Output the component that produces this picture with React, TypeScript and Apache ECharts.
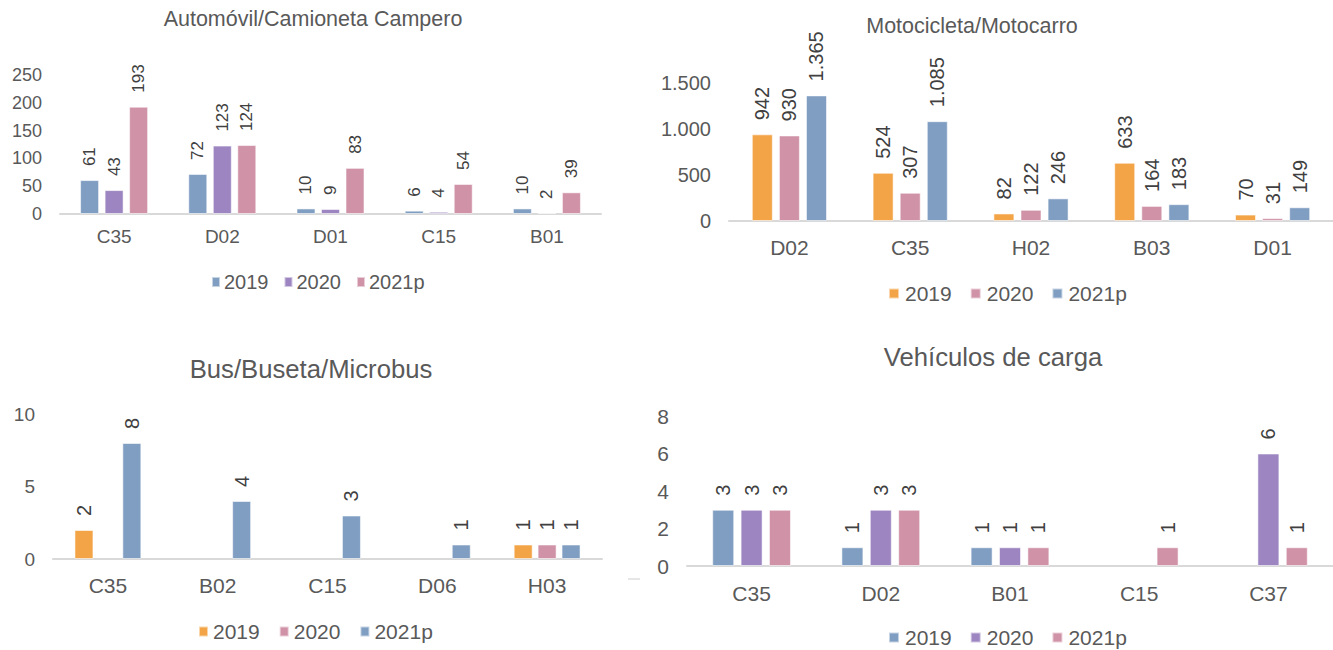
import React, { useEffect, useRef } from "react";
import * as echarts from "echarts";

// ---------- DATA ----------
const autoCategories = ["C35", "D02", "D01", "C15", "B01"];
const auto2019 = [61, 72, 10, 6, 10];
const auto2020 = [43, 123, 9, 4, 2];
const auto2021p = [193, 124, 83, 54, 39];

const motoCategories = ["D02", "C35", "H02", "B03", "D01"];
const moto2019 = [942, 524, 82, 633, 70];
const moto2020 = [930, 307, 122, 164, 31];
const moto2021p = [1365, 1085, 246, 183, 149];

const busCategories = ["C35", "B02", "C15", "D06", "H03"];
const bus2019 = [2, null, null, null, 1];
const bus2020 = [null, null, null, null, 1];
const bus2021p = [8, 4, 3, 1, 1];

const cargaCategories = ["C35", "D02", "B01", "C15", "C37"];
const carga2019 = [3, 1, 1, null, null];
const carga2020 = [3, 3, 1, null, 6];
const carga2021p = [3, 3, 1, 1, 1];

const seriesNames = ["2019", "2020", "2021p"];
const titles = [
  "Automóvil/Camioneta Campero",
  "Motocicleta/Motocarro",
  "Bus/Buseta/Microbus",
  "Vehículos de carga",
];

// ---------- STYLE ----------
const FONT = "'Liberation Sans', Arial, Helvetica, sans-serif";
const BLUE = "#809EC2";
const PURPLE = "#9C85C0";
const PINK = "#D092A7";
const ORANGE = "#F3A447";
const AXIS_TEXT = "#595959";
const VALUE_TEXT = "#404040";

const thousands = (v: number) =>
  String(v).replace(/\B(?=(\d{3})+(?!\d))/g, ".");

const panels = [
  {
    cats: autoCategories,
    data: [auto2019, auto2020, auto2021p],
    colors: [BLUE, PURPLE, PINK],
    grid: { left: 60, top: 75, width: 541, height: 139 },
    max: 250,
    interval: 50,
    barWidth: 19,
    barGap: "29%",
    yFont: 18,
    xFont: 19,
    xMargin: 13,
    valFont: 17,
    legFont: 20,
    legend: { left: 211, top: 272, gap: 15, iw: 8, ih: 10, tpad: -1 },
    title: { x: 313, y: 19, size: 21.5 },
  },
  {
    cats: motoCategories,
    data: [moto2019, moto2020, moto2021p],
    colors: [ORANGE, PINK, BLUE],
    grid: { left: 729, top: 83, width: 610, height: 138 },
    max: 1500,
    interval: 500,
    barWidth: 21,
    barGap: "29%",
    yFont: 20,
    xFont: 21,
    xMargin: 16,
    valFont: 20,
    legFont: 21,
    legend: { left: 888, top: 283, gap: 18, iw: 10, ih: 10, tpad: 1 },
    title: { x: 972, y: 26, size: 21.5 },
  },
  {
    cats: busCategories,
    data: [bus2019, bus2020, bus2021p],
    colors: [ORANGE, PINK, BLUE],
    grid: { left: 53, top: 414, width: 549, height: 145 },
    max: 10,
    interval: 5,
    barWidth: 19,
    barGap: "26%",
    yFont: 19,
    xFont: 21,
    xMargin: 16,
    valFont: 20,
    legFont: 21,
    legend: { left: 198, top: 621, gap: 19, iw: 9, ih: 10, tpad: 0 },
    title: { x: 311, y: 369, size: 25.7 },
  },
  {
    cats: cargaCategories,
    data: [carga2019, carga2020, carga2021p],
    colors: [BLUE, PURPLE, PINK],
    grid: { left: 687, top: 416, width: 650, height: 150 },
    max: 8,
    interval: 2,
    barWidth: 22,
    barGap: "29%",
    yFont: 21,
    xFont: 21,
    xMargin: 17,
    valFont: 20,
    legFont: 21,
    legend: { left: 888, top: 627, gap: 18, iw: 10, ih: 10, tpad: 1 },
    title: { x: 993, y: 357, size: 25.7 },
  },
];

function buildOption() {
  const grid: any[] = [];
  const xAxis: any[] = [];
  const yAxis: any[] = [];
  const series: any[] = [];
  const legend: any[] = [];
  const graphic: any[] = [];

  panels.forEach((p, i) => {
    grid.push({ ...p.grid, containLabel: false });
    xAxis.push({
      type: "category",
      gridIndex: i,
      data: p.cats,
      axisLine: { show: true, lineStyle: { color: "#D9D9D9", width: 2 } },
      axisTick: { show: false },
      axisLabel: {
        color: AXIS_TEXT,
        fontSize: p.xFont,
        fontFamily: FONT,
        margin: p.xMargin,
      },
    });
    yAxis.push({
      type: "value",
      gridIndex: i,
      min: 0,
      max: p.max,
      interval: p.interval,
      splitLine: { show: false },
      axisLine: { show: false },
      axisTick: { show: false },
      axisLabel: {
        color: AXIS_TEXT,
        fontSize: p.yFont,
        fontFamily: FONT,
        margin: 18,
        formatter: (v: number) => thousands(v),
      },
    });
    const names: string[] = [];
    p.data.forEach((arr, s) => {
      const name = `p${i}|${seriesNames[s]}`;
      names.push(name);
      series.push({
        type: "bar",
        name,
        xAxisIndex: i,
        yAxisIndex: i,
        data: arr,
        barWidth: p.barWidth,
        barGap: p.barGap,
        itemStyle: {
          color: p.colors[s],
          borderColor: "rgba(255,255,255,0.55)",
          borderWidth: 1,
        },
        label: {
          show: true,
          position: "top",
          rotate: 90,
          align: "left",
          verticalAlign: "middle",
          distance: 14,
          color: VALUE_TEXT,
          fontSize: p.valFont,
          fontFamily: FONT,
          formatter: (d: any) => thousands(d.value),
        },
      });
    });
    legend.push({
      data: names,
      left: p.legend.left,
      top: p.legend.top,
      orient: "horizontal",
      icon: "rect",
      itemWidth: p.legend.iw,
      itemHeight: p.legend.ih,
      itemGap: p.legend.gap,
      padding: 0,
      selectedMode: false,
      formatter: (n: string) => n.split("|")[1],
      textStyle: {
        color: AXIS_TEXT,
        fontSize: p.legFont,
        fontFamily: FONT,
        padding: [0, 0, 0, p.legend.tpad],
      },
    });
    graphic.push({
      type: "text",
      x: p.title.x,
      y: p.title.y,
      style: {
        text: titles[i],
        fill: AXIS_TEXT,
        font: `${p.title.size}px ${FONT}`,
        textAlign: "center",
        textVerticalAlign: "middle",
      },
    });
  });

  graphic.push({
    type: "line",
    shape: { x1: 628, y1: 579, x2: 640, y2: 579 },
    style: { stroke: "#E6E6E6", lineWidth: 2 },
  });

  return {
    animation: false,
    backgroundColor: "#FFFFFF",
    textStyle: { fontFamily: FONT },
    grid,
    xAxis,
    yAxis,
    series,
    legend,
    graphic,
  };
}

export default function App() {
  const ref = useRef<HTMLDivElement>(null);
  useEffect(() => {
    document.body.style.margin = "0";
    if (!ref.current) return;
    const chart = echarts.init(ref.current, undefined, { renderer: "svg" });
    chart.setOption(buildOption() as any);
    return () => chart.dispose();
  }, []);
  return (
    <div
      ref={ref}
      style={{
        position: "absolute",
        left: 0,
        top: 0,
        width: 1333,
        height: 650,
        background: "#fff",
      }}
    />
  );
}
